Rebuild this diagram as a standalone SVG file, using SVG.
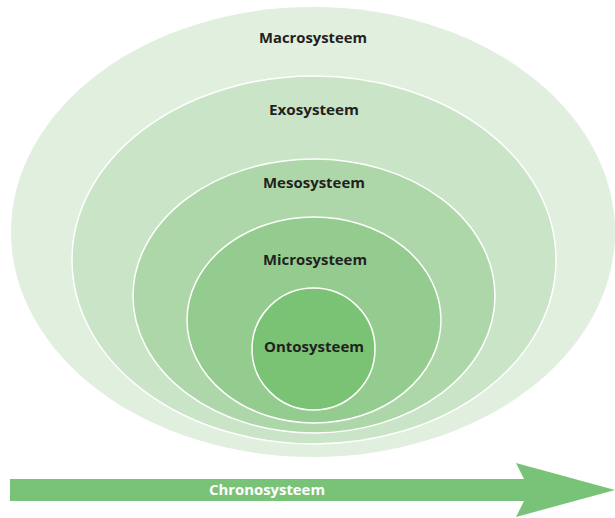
<svg xmlns="http://www.w3.org/2000/svg" width="615" height="518" viewBox="0 0 615 518">
<style>
.ring{stroke:#ffffff;stroke-width:1.5}
.lbl{font-family:"Open Sans","Liberation Sans",sans-serif;font-weight:700;font-size:15px;fill:#231f20;text-anchor:middle}
.arr{font-family:"Open Sans","Liberation Sans",sans-serif;font-weight:700;font-size:15px;fill:#ffffff;text-anchor:middle}
</style>
<rect width="615" height="518" fill="#ffffff"/>
<g id="macro">
<ellipse cx="313" cy="232" rx="302" ry="225" fill="#e1efdf"/>
<text class="lbl" x="313" y="43" textLength="108" lengthAdjust="spacingAndGlyphs">Macrosysteem</text>
</g>
<g id="exo">
<ellipse class="ring" cx="314" cy="260" rx="242" ry="184" fill="#c9e4c6"/>
<text class="lbl" x="314" y="115" textLength="90" lengthAdjust="spacingAndGlyphs">Exosysteem</text>
</g>
<g id="meso">
<ellipse class="ring" cx="314" cy="296" rx="181" ry="137" fill="#aed7a9"/>
<text class="lbl" x="314" y="188" textLength="102" lengthAdjust="spacingAndGlyphs">Mesosysteem</text>
</g>
<g id="micro">
<ellipse class="ring" cx="314" cy="320" rx="127" ry="103" fill="#94cc8f"/>
<text class="lbl" x="315" y="265" textLength="104" lengthAdjust="spacingAndGlyphs">Microsysteem</text>
</g>
<g id="onto">
<ellipse class="ring" cx="313.5" cy="349" rx="61.5" ry="61" fill="#7ac374"/>
<text class="lbl" x="314" y="352" textLength="100" lengthAdjust="spacingAndGlyphs">Ontosysteem</text>
</g>
<g id="connectors">
<g id="chrono">
<polygon points="10,479 524,479 516,463 615,490 516,517 524,501 10,501" fill="#78c377"/>
<text class="arr" x="267" y="495" textLength="116" lengthAdjust="spacingAndGlyphs">Chronosysteem</text>
</g>
</g>
</svg>
